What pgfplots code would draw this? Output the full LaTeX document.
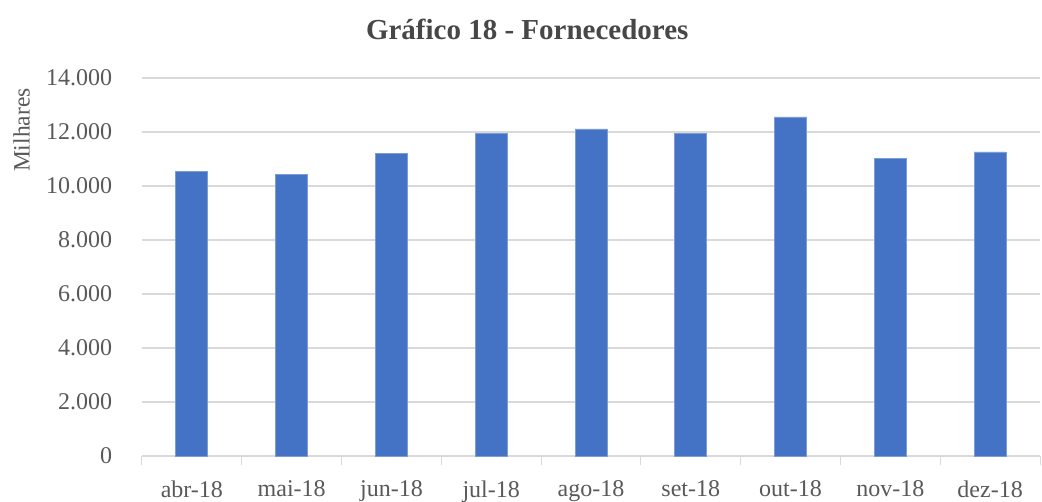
\documentclass[border=0pt]{standalone}
\usepackage{pgfplots}
\pgfplotsset{compat=1.18}
\usepackage{fontspec}
\setmainfont{Liberation Serif}
\definecolor{barblue}{HTML}{4472C4}
\definecolor{gridgray}{HTML}{D9D9D9}
\definecolor{txtgray}{HTML}{595959}
\begin{document}
\begin{tikzpicture}[x=1pt,y=1pt]
\path[use as bounding box] (0,0) rectangle (1042,502);
\begin{axis}[
  at={(142pt,46pt)}, anchor=south west,
  scale only axis, width=898pt, height=378pt,
  xmin=-0.5, xmax=8.5, ymin=0, ymax=14000,
  axis lines*=left,
  x axis line style={draw=gridgray, line width=1pt},
  y axis line style={draw=none},
  ytick={0,2000,...,14000},
  ymajorgrids, grid style={gridgray, line width=1.2pt},
  ytick style={draw=none},
  xtick={0,...,8},
  xticklabels={abr-18,mai-18,jun-18,jul-18,ago-18,set-18,out-18,nov-18,dez-18},
  major x tick style={draw=none},
  minor xtick={-0.5,0.5,...,8.5},
  minor x tick style={draw=gridgray, line width=1pt},
  minor tick length=9pt, tick align=outside,
  /pgf/number format/assume math mode=true,
  /pgf/number format/.cd, 1000 sep={.}, /pgfplots/.cd,
  scaled y ticks=false,
  tick label style={font=\fontsize{24}{28}\selectfont, text=txtgray},
  yticklabel style={xshift=-22pt},
  xticklabel style={yshift=-17pt},
  title={\textbf{Gráfico 18 - Fornecedores}},
  title style={font=\fontsize{29}{32}\selectfont, text=txtgray!80!black, at={(axis description cs:0.429,1.087)}, anchor=base},
  ylabel={Milhares},
  ylabel style={font=\fontsize{23.5}{28}\selectfont, text=txtgray, at={(axis description cs:-0.134,0.862)}, anchor=center, rotate=0},
  clip=false,
]
\addplot[ybar, bar width=32pt, fill=barblue, draw=barblue!70!white, line width=0.8pt] coordinates {
 (0,10544) (1,10444) (2,11211) (3,11937) (4,12111) (5,11937) (6,12556) (7,11026) (8,11259)
};
\end{axis}
\end{tikzpicture}
\end{document}
